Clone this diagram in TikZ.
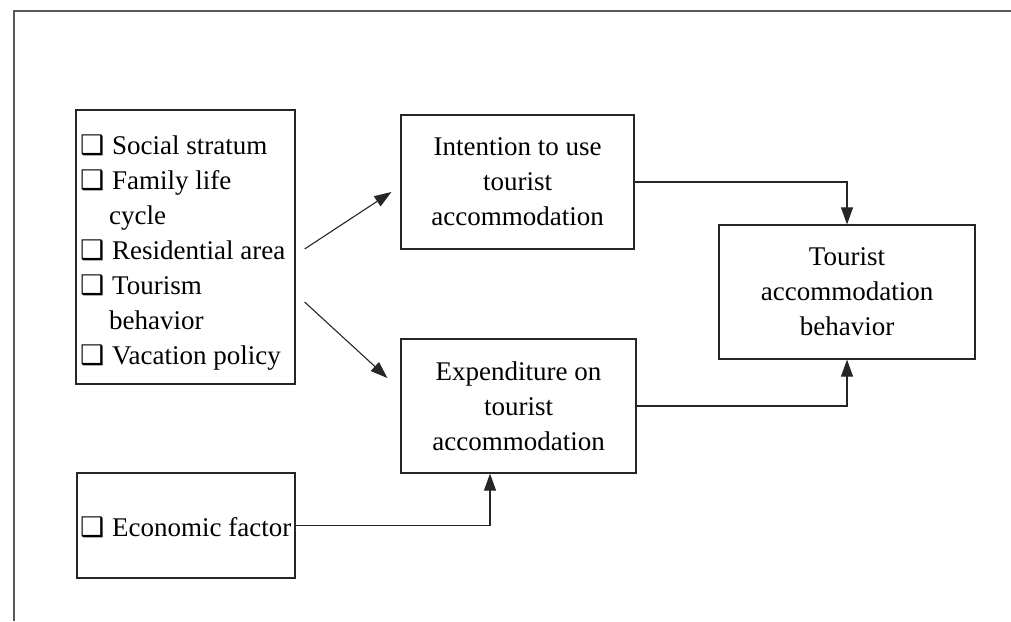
\documentclass[tikz,border=0pt]{standalone}
\usepackage{fontspec}
\setmainfont{Liberation Serif}
\newfontfamily\symf{DejaVu Sans}
\usetikzlibrary{arrows.meta,calc}
\newcommand\cbox{\makebox[32pt][l]{\symf\fontsize{27}{27}\selectfont ❑}}
\begin{document}
\begin{tikzpicture}[x=1pt,y=-1pt,
  font=\fontsize{27}{35}\selectfont,
  box/.style={draw=black!85, line width=1.2pt, inner sep=0pt, align=center},
  txt/.style={anchor=base west, inner sep=0pt},
  arr/.style={draw=black!85, line width=1.1pt, -{Triangle[length=17pt,width=12pt]}},
  frame/.style={draw=black!65, line width=2pt}]
\useasboundingbox (0,0) rectangle (1011,621);
\draw[frame] (1011,11) -- (14,11) -- (14,621);

% boxes
\node[box, minimum width=219pt, minimum height=274pt] (L) at (185.5,247) {};
\node[box, minimum width=233pt, minimum height=134pt] (I) at (517.5,182) {Intention to use\\tourist\\accommodation};
\node[box, minimum width=235pt, minimum height=134pt] (E) at (518.5,406) {Expenditure on\\tourist\\accommodation};
\node[box, minimum width=256pt, minimum height=134pt] (T) at (847,292) {Tourist\\accommodation\\behavior};
\node[box, minimum width=218pt, minimum height=105pt] (F) at (186,525.5) {};

% left box items
\node[txt] (l1) at (80,154) {\cbox Social stratum};
\node[txt] (l2) at (80,189) {\cbox Family life};
\node[txt] (l2b) at (109,224) {cycle};
\node[txt] (l3) at (80,259) {\cbox Residential area};
\node[txt] (l4) at (80,294) {\cbox Tourism};
\node[txt] (l4b) at (109,329) {behavior};
\node[txt] (l5) at (80,364) {\cbox Vacation policy};
\node[txt] (f1) at (80,536) {\cbox Economic factor};

% connectors
\draw[arr] ($(L.east)+(9,2)$) -- ($(I.west)+(-9,10)$);
\draw[arr] ($(L.east)+(9,55)$) -- ($(E.west)+(-13,-28)$);
\draw[arr] (I.east) -| (T.north);
\draw[arr] (E.east) -| (T.south);
\draw[arr] (F.east) -| ($(E.south)+(-28.5,0)$);
\end{tikzpicture}
\end{document}
